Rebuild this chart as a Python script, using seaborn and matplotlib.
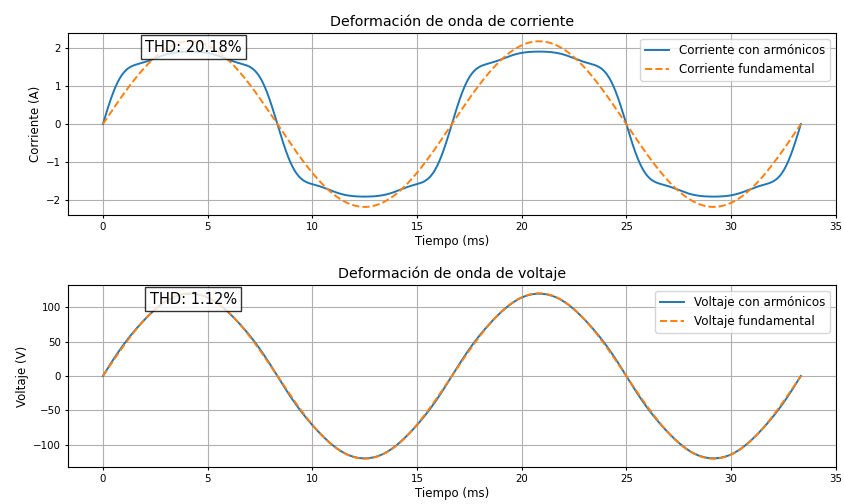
import numpy as np
import pandas as pd
import matplotlib
matplotlib.use("Agg")
import matplotlib.pyplot as plt
import seaborn as sns

# Señal de 60 Hz, dos ciclos
freq_hz = 60
n_cycles = 2

# Armónicos (orden, amplitud)
orders = [1, 3, 5, 7, 9]
current_amps = [2.17, 0.39, 0.18, 0.07, 0.01]   # A
voltage_amps = [120.0, 1.0, 0.8, 0.4, 0.0]      # V

thd_current_label = "THD: 20.18%"
thd_voltage_label = "THD: 1.12%"

t_ms = np.linspace(0, n_cycles / freq_hz * 1000, 1000)
wt = 2 * np.pi * freq_hz * t_ms / 1000


def synth(amps):
    return sum(a * np.sin(h * wt) for h, a in zip(orders, amps))


df = pd.DataFrame({
    "t": t_ms,
    "i_arm": synth(current_amps),
    "i_fund": current_amps[0] * np.sin(wt),
    "v_arm": synth(voltage_amps),
    "v_fund": voltage_amps[0] * np.sin(wt),
})

fig = plt.figure(figsize=(8.45, 5.04), dpi=100)
ax1 = fig.add_axes([0.0805, 0.573, 0.9085, 0.3615])
ax2 = fig.add_axes([0.0805, 0.0734, 0.9085, 0.3611])

blue, orange = "#1f77b4", "#ff7f0e"

sns.lineplot(data=df, x="t", y="i_arm", ax=ax1, color=blue, lw=1.4,
             label="Corriente con armónicos")
sns.lineplot(data=df, x="t", y="i_fund", ax=ax1, color=orange, lw=1.4,
             linestyle="--", label="Corriente fundamental")
sns.lineplot(data=df, x="t", y="v_arm", ax=ax2, color=blue, lw=1.4,
             label="Voltaje con armónicos")
sns.lineplot(data=df, x="t", y="v_fund", ax=ax2, color=orange, lw=1.4,
             linestyle="--", label="Voltaje fundamental")

for ax, title, ylab, thd in [
    (ax1, "Deformación de onda de corriente", "Corriente (A)", thd_current_label),
    (ax2, "Deformación de onda de voltaje", "Voltaje (V)", thd_voltage_label),
]:
    ax.set_title(title, fontsize=10.3, pad=5)
    ax.set_xlabel("Tiempo (ms)", fontsize=8.5, labelpad=2)
    ax.set_ylabel(ylab, fontsize=8.5, labelpad=3)
    ax.tick_params(labelsize=7.4, length=2.5, pad=2.5)
    ax.grid(True)
    ax.legend(loc="upper right", fontsize=8.6)
    ax.text(0.163, 0.923, thd, transform=ax.transAxes, ha="center", va="center",
            fontsize=10.5, bbox=dict(facecolor="white", alpha=0.8, boxstyle="square,pad=0.3"))

fig.savefig("out.png", dpi=100)
